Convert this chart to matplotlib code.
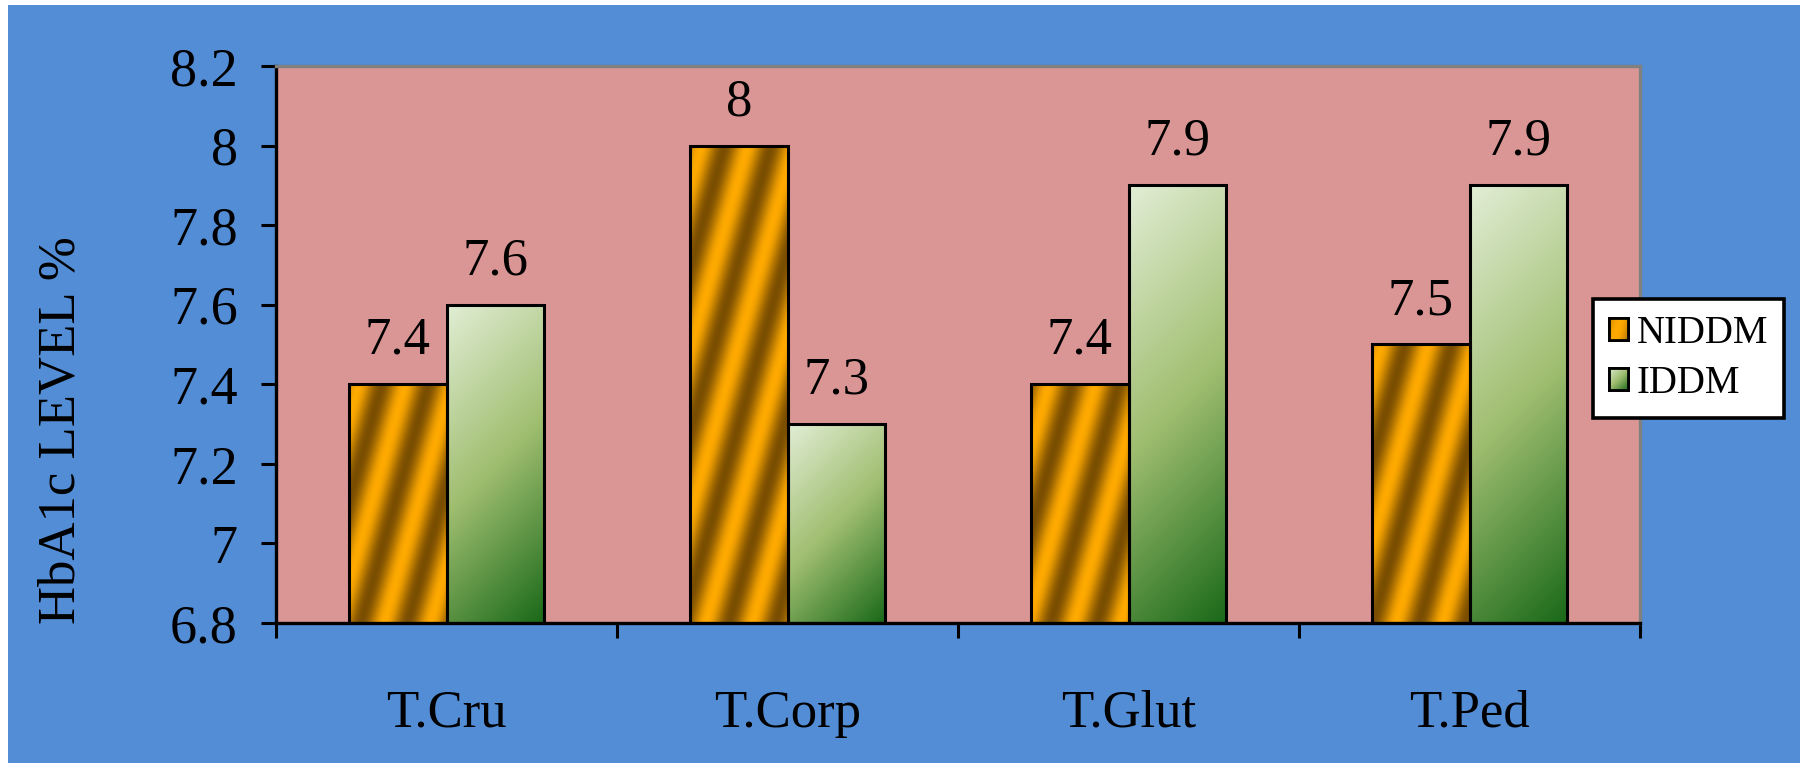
import numpy as np
import matplotlib
matplotlib.use("Agg")
import matplotlib.pyplot as plt
from matplotlib.patches import Rectangle

# ---- data -------------------------------------------------------------
categories = ["T.Cru", "T.Corp", "T.Glut", "T.Ped"]
series_names = ["NIDDM", "IDDM"]
niddm = [7.4, 8.0, 7.4, 7.5]
iddm = [7.6, 7.3, 7.9, 7.9]
y_ticks = [6.8, 7.0, 7.2, 7.4, 7.6, 7.8, 8.0, 8.2]
y_tick_labels = ["6.8", "7", "7.2", "7.4", "7.6", "7.8", "8", "8.2"]
y_label = "HbA1c LEVEL %"

plt.rcParams["font.family"] = ["Liberation Serif", "DejaVu Serif"]

W, H, DPI = 1800, 763, 100
BLUE = "#538DD5"
PINK = "#DA9694"

fig = plt.figure(figsize=(W / DPI, H / DPI), dpi=DPI, facecolor="white")
fig.patches.append(Rectangle((8 / W, 0), 1, 1 - 5 / H, transform=fig.transFigure,
                             facecolor=BLUE, edgecolor="none", zorder=-10))

ax = fig.add_axes([276 / W, 1 - 623 / H, (1640 - 276) / W, (623 - 66) / H])
ax.set_facecolor(PINK)

x = np.arange(len(categories))
bw = 0.285
ymin, ymax = 6.8, 8.2
ax.set_xlim(-0.5, len(categories) - 0.5)
ax.set_ylim(ymin, ymax)

bars_n = ax.bar(x - bw / 2, niddm, bw, facecolor="none", edgecolor="black",
                linewidth=2.2, zorder=3)
bars_i = ax.bar(x + bw / 2, iddm, bw, facecolor="none", edgecolor="black",
                linewidth=2.2, zorder=3)

# ---- fill patterns ----------------------------------------------------
ORANGE_HI = np.array([255, 170, 0]) / 255
ORANGE_LO = np.array([122, 78, 2]) / 255
GREEN_STOPS = [(0.0, np.array([226, 238, 214]) / 255),
               (0.5, np.array([160, 190, 112]) / 255),
               (1.0, np.array([24, 104, 24]) / 255)]


def striped(w, h, x0, y0):
    xs = x0 + np.arange(w) + 0.5
    ys = y0 + h - (np.arange(h) + 0.5)
    X, Y = np.meshgrid(xs, ys)
    u = X - 0.28 * Y
    f = 0.5 + 0.5 * np.cos(2 * np.pi * u / 46.0)
    return ORANGE_HI * (1 - f[..., None]) + ORANGE_LO * f[..., None]


def gradient(w, h):
    xs = np.arange(w) + 0.5
    ys = np.arange(h) + 0.5
    X, Y = np.meshgrid(xs, ys)
    t = (X + Y) / (w + h)
    out = np.zeros((h, w, 3))
    for c in range(3):
        out[..., c] = np.interp(t, [s[0] for s in GREEN_STOPS],
                                [s[1][c] for s in GREEN_STOPS])
    return out


def fill_bar(target_ax, patch, kind, y_low):
    bx, bwid = patch.get_x(), patch.get_width()
    top = patch.get_y() + patch.get_height()
    (px0, py0) = target_ax.transData.transform((bx, y_low))
    (px1, py1) = target_ax.transData.transform((bx + bwid, top))
    w = max(int(round(px1 - px0)), 2)
    h = max(int(round(py1 - py0)), 2)
    img = striped(w, h, px0, py0) if kind == "stripe" else gradient(w, h)
    im = target_ax.imshow(img, extent=(bx, bx + bwid, y_low, top),
                          aspect="auto", interpolation="bilinear", zorder=2)
    im.set_clip_path(patch)


for p in bars_n:
    fill_bar(ax, p, "stripe", ymin)
for p in bars_i:
    fill_bar(ax, p, "grad", ymin)
ax.set_xlim(-0.5, len(categories) - 0.5)
ax.set_ylim(ymin, ymax)

# ---- value labels -----------------------------------------------------
for xs_, vals in ((x - bw / 2, niddm), (x + bw / 2, iddm)):
    for xi, v in zip(xs_, vals):
        ax.annotate(f"{v:g}", (xi, v), xytext=(0, 14), textcoords="offset points",
                    ha="center", va="bottom", fontsize=38, zorder=5)

# ---- axes styling -----------------------------------------------------
ax.set_yticks(y_ticks)
ax.set_yticklabels(y_tick_labels)
ax.tick_params(axis="y", length=10.5, width=2.2, direction="out", pad=17,
               labelsize=39, colors="black")
ax.set_xticks(x)
ax.set_xticklabels(categories)
ax.tick_params(axis="x", which="major", length=0, pad=48, labelsize=38)
ax.set_xticks(np.arange(len(categories) + 1) - 0.5, minor=True)
ax.tick_params(axis="x", which="minor", length=11, width=2.2, direction="out")

for side in ("left", "bottom"):
    ax.spines[side].set_color("black")
    ax.spines[side].set_linewidth(2.4)
for side in ("top", "right"):
    ax.spines[side].set_color("#808080")
    ax.spines[side].set_linewidth(2.4)

fig.text(62 / W, 1 - 430 / H, y_label, rotation=90, ha="center", va="center",
         fontsize=38)

# ---- legend -----------------------------------------------------------
handles = [Rectangle((0, 0), 1, 1, facecolor="#FFA800", edgecolor="black", linewidth=2),
           Rectangle((0, 0), 1, 1, facecolor="#A0BE70", edgecolor="black", linewidth=2)]
leg = ax.legend(handles, series_names, loc="upper left",
                bbox_to_anchor=(1593 / W, 1 - 299 / H), bbox_transform=fig.transFigure,
                borderaxespad=0, fontsize=28, frameon=True, fancybox=False,
                handlelength=0.5, handleheight=0.5, handletextpad=0.22,
                borderpad=0.4, labelspacing=0.35)
leg.get_frame().set_edgecolor("black")
leg.get_frame().set_linewidth(2.6)
leg.get_frame().set_facecolor("white")
leg.get_frame().set_alpha(1)

fig.canvas.draw()
renderer = fig.canvas.get_renderer()
for h_patch, kind in zip(leg.get_patches(), ("stripe", "grad")):
    bb = h_patch.get_window_extent(renderer)
    hax = fig.add_axes([bb.x0 / W, bb.y0 / H, bb.width / W, bb.height / H], zorder=10)
    w, hh = max(int(bb.width), 2), max(int(bb.height), 2)
    img = striped(w, hh, bb.x0, bb.y0) if kind == "stripe" else gradient(w, hh)
    hax.imshow(img, extent=(0, 1, 0, 1), aspect="auto")
    hax.set_xticks([])
    hax.set_yticks([])
    for s in hax.spines.values():
        s.set_linewidth(2)
        s.set_color("black")

fig.savefig("out.png", dpi=DPI, facecolor=fig.get_facecolor())
